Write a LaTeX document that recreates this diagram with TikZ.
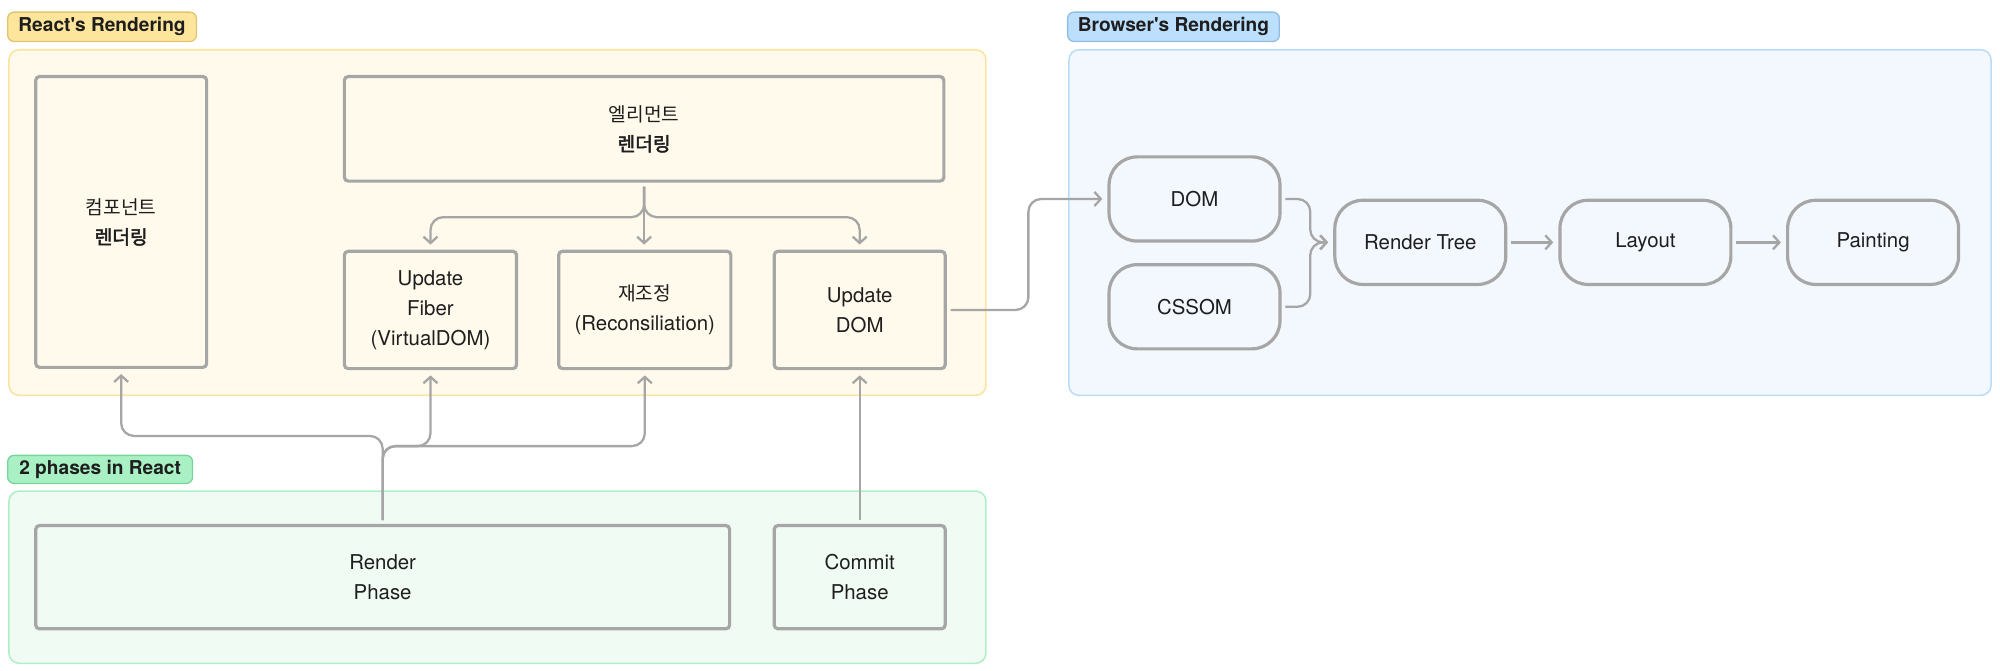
\documentclass[tikz,border=0pt]{standalone}
\usepackage{fontspec}
\setmainfont{TeX Gyre Heros}[Ligatures=TeXOff]
\newfontfamily\kr{Noto Sans CJK KR}[Scale=0.94]
\newfontfamily\krb{Noto Sans CJK KR}[Scale=0.94, FakeBold=2.5]
\usetikzlibrary{arrows.meta, calc}

\definecolor{edge}{HTML}{A6A6A6}
\definecolor{ink}{HTML}{1E1E1E}
\definecolor{reactfill}{HTML}{FFFAEC}
\definecolor{reactline}{HTML}{FCE49C}
\definecolor{reacttag}{HTML}{FDE59B}
\definecolor{reacttagline}{HTML}{E0C470}
\definecolor{phasefill}{HTML}{F0FBF3}
\definecolor{phaseline}{HTML}{AEEFC6}
\definecolor{phasetag}{HTML}{A9F1C4}
\definecolor{phasetagline}{HTML}{79D49C}
\definecolor{browserfill}{HTML}{F3F8FE}
\definecolor{browserline}{HTML}{BADCF8}
\definecolor{browsertag}{HTML}{BCDFFD}
\definecolor{browsertagline}{HTML}{8EBEE4}

\begin{document}
\begin{tikzpicture}[x=1pt,y=-1pt]

% Define styles
\tikzstyle{region}=[rounded corners=8pt, line width=1.2pt]
\tikzstyle{tag}=[rounded corners=5pt, line width=1pt, inner sep=0pt, minimum height=23pt, text=ink, font=\fontsize{15}{17}\selectfont\bfseries]
\tikzstyle{box}=[draw=edge, line width=2.5pt, rounded corners=3pt, inner sep=0pt, align=center, text=ink, font=\fontsize{16}{23.5}\selectfont]
\tikzstyle{pill}=[box, rounded corners=22pt, minimum width=134pt, minimum height=66pt]
\tikzstyle{conn}=[draw=edge, line width=1.8pt, rounded corners=10pt, -{Straight Barb[length=5pt, width=11pt]}, shorten >=4pt, shorten <=3pt]

% Canvas
\useasboundingbox (0,0) rectangle (1568,525.3);

% Regions
\draw[region, fill=reactfill, draw=reactline] (7,39) rectangle (773,310);
\draw[region, fill=phasefill, draw=phaseline] (7,385) rectangle (773,520);
\draw[region, fill=browserfill, draw=browserline] (838,39) rectangle (1561,310);

\node[tag, fill=reacttag, draw=reacttagline, minimum width=148pt] (reacttag) at (80,21) {React's Rendering};
\node[tag, fill=phasetag, draw=phasetagline, minimum width=145pt, minimum height=22pt] (phasetag) at (78.5,368) {2 phases in React};
\node[tag, fill=browsertag, draw=browsertagline, minimum width=166pt] (browsertag) at (920,21) {Browser's Rendering};

% React steps
\node[box, minimum width=134pt, minimum height=228pt] (comp) at (95,174) {\kr 컴포넌트\\ \krb 렌더링};
\node[box, minimum width=470pt, minimum height=82pt] (elem) at (505,101) {\kr 엘리먼트\\ \krb 렌더링};
\node[box, minimum width=135pt, minimum height=92pt] (fiber) at (337.5,243) {Update\\Fiber\\(VirtualDOM)};
\node[box, minimum width=135pt, minimum height=92pt] (recon) at (505.5,243) {{\kr 재조정}\\(Reconsiliation)};
\node[box, minimum width=134pt, minimum height=92pt] (updom) at (674,243) {Update\\DOM};

% Phases
\node[box, minimum width=544pt, minimum height=81pt] (render) at (300,452.5) {Render\\Phase};
\node[box, minimum width=134pt, minimum height=81pt] (commit) at (674,452.5) {Commit\\Phase};

% Browser steps
\node[pill] (dom) at (936.5,156) {DOM};
\node[pill] (cssom) at (936.5,240.5) {CSSOM};
\node[pill] (rtree) at (1113.5,190) {Render Tree};
\node[pill] (layout) at (1290,190) {Layout};
\node[pill] (paint) at (1468.5,190) {Painting};

% Element rendering to sub-steps
\draw[conn] (elem.south) -- ++(0,27) -| (fiber.north);
\draw[conn] (elem.south) -- (elem.south |- recon.north);
\draw[conn] (elem.south) -- ++(0,27) -| (updom.north);

% Phases to steps
\draw[conn] (render.north) -- ++(0,-69) -| (comp.south);
\draw[conn] (render.north) -- ++(0,-61) -| (fiber.south);
\draw[conn] (render.north) -- ++(0,-61) -| (recon.south);
\draw[conn] (commit.north) -- (updom.south);

% React to browser
\draw[conn] (updom.east) -- ++(64,0) |- (dom.west);

% Browser pipeline
\draw[conn] (dom.east) -| ($(rtree.west)+(-18,0)$) -- (rtree.west);
\draw[conn] (cssom.east) -| ($(rtree.west)+(-18,0)$) -- (rtree.west);
\draw[conn] (rtree) -- (layout);
\draw[conn] (layout) -- (paint);

\end{tikzpicture}
\end{document}
